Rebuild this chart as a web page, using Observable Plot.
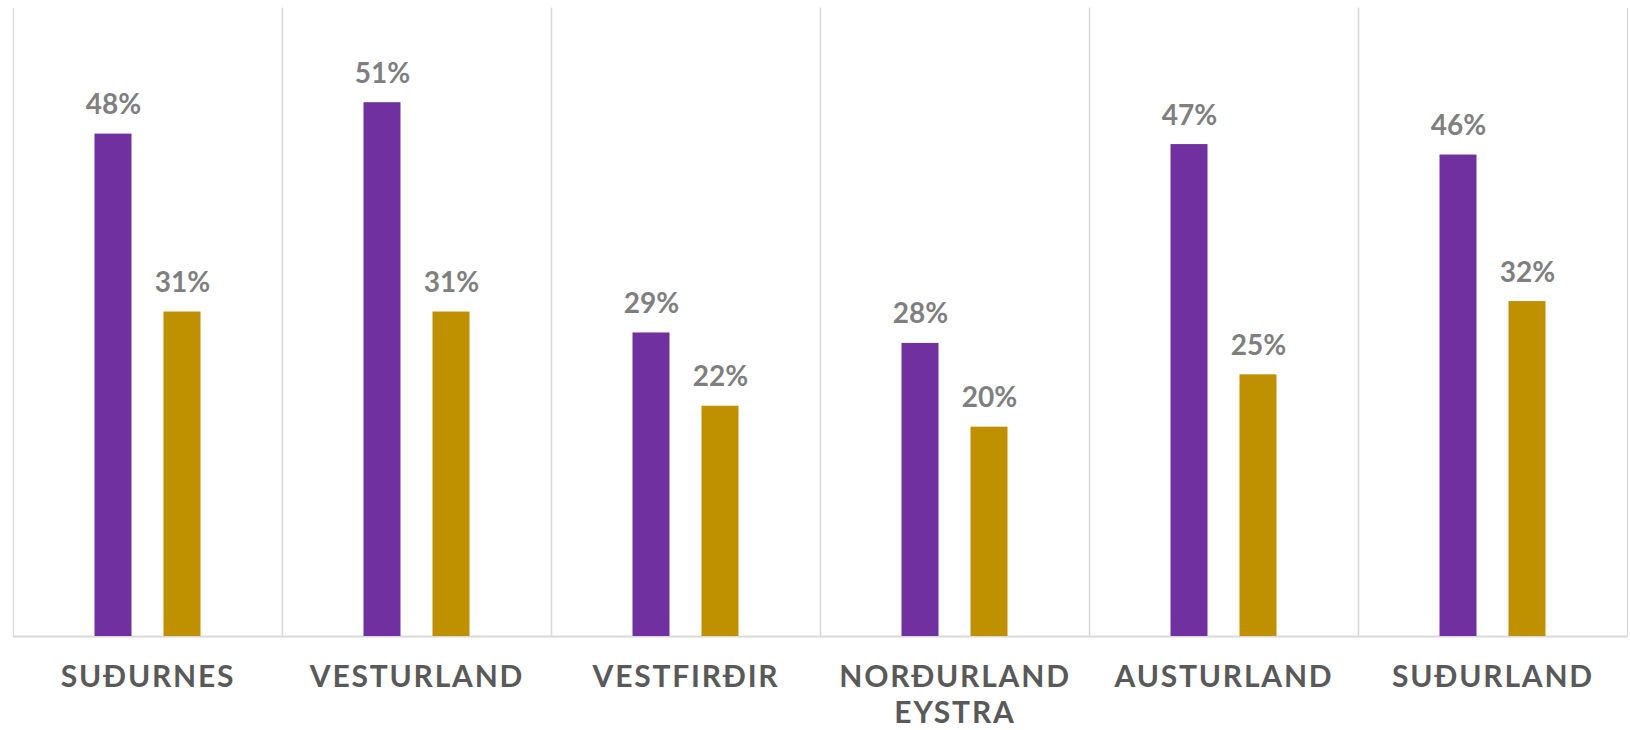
<!DOCTYPE html>
<html>
<head>
<meta charset="utf-8">
<script src="https://cdn.jsdelivr.net/npm/d3@7"></script>
<script src="https://cdn.jsdelivr.net/npm/@observablehq/plot@0.6"></script>
<style>
  html, body { margin: 0; padding: 0; background: #fff; }
  #chart svg { display: block; font-family: Lato, "Open Sans", sans-serif; }
  .chart g[aria-label="fx-axis tick label"] text { letter-spacing: 1.8px; font-weight: bold; }
</style>
</head>
<body>
<div id="chart"></div>
<script>
const regions = ["SUÐURNES", "VESTURLAND", "VESTFIRÐIR", "NORÐURLAND EYSTRA", "AUSTURLAND", "SUÐURLAND"];
const seriesNames = ["Röð 1", "Röð 2"];
const series1 = [48, 51, 29, 28, 47, 46];
const series2 = [31, 31, 22, 20, 25, 32];
const colors = ["#7030a0", "#bf9000"];

const data = [];
regions.forEach((r, i) => {
  data.push({region: r, series: seriesNames[0], value: series1[i]});
  data.push({region: r, series: seriesNames[1], value: series2[i]});
});

const chart = Plot.plot({
  className: "chart",
  width: 1630,
  height: 730,
  marginTop: 8,
  marginBottom: 94,
  marginLeft: 10.5,
  marginRight: 1,
  style: {fontFamily: "Lato, 'Open Sans', sans-serif", background: "#fff"},
  fx: {domain: regions, padding: 0, label: null},
  x: {domain: seriesNames, paddingInner: 0.47, paddingOuter: 1.16, axis: null},
  y: {domain: [0, 60], axis: null},
  color: {domain: seriesNames, range: colors},
  marks: [
    Plot.frame({anchor: "left", stroke: "#d9d9d9", strokeWidth: 1.3}),
    Plot.frame({anchor: "right", stroke: "#d9d9d9", strokeWidth: 1.3}),
    Plot.ruleY([0], {stroke: "#d9d9d9", strokeWidth: 1.8}),
    Plot.barY(data, {fx: "region", x: "series", y: "value", fill: "series"}),
    Plot.text(data, {
      fx: "region", x: "series", y: "value",
      text: d => d.value + "%",
      lineAnchor: "bottom", dy: -20,
      fontSize: 28, fontWeight: "bold", fill: "#7f7f7f"
    }),
    Plot.axisFx({
      anchor: "bottom",
      tickSize: 0,
      tickPadding: 24,
      fontSize: 30,
      fontWeight: "bold",
      fill: "#595959",
      lineHeight: 1.22,
      label: null,
      tickFormat: d => d.replace(" ", "\n")
    })
  ]
});
document.getElementById("chart").appendChild(chart);
</script>
</body>
</html>
